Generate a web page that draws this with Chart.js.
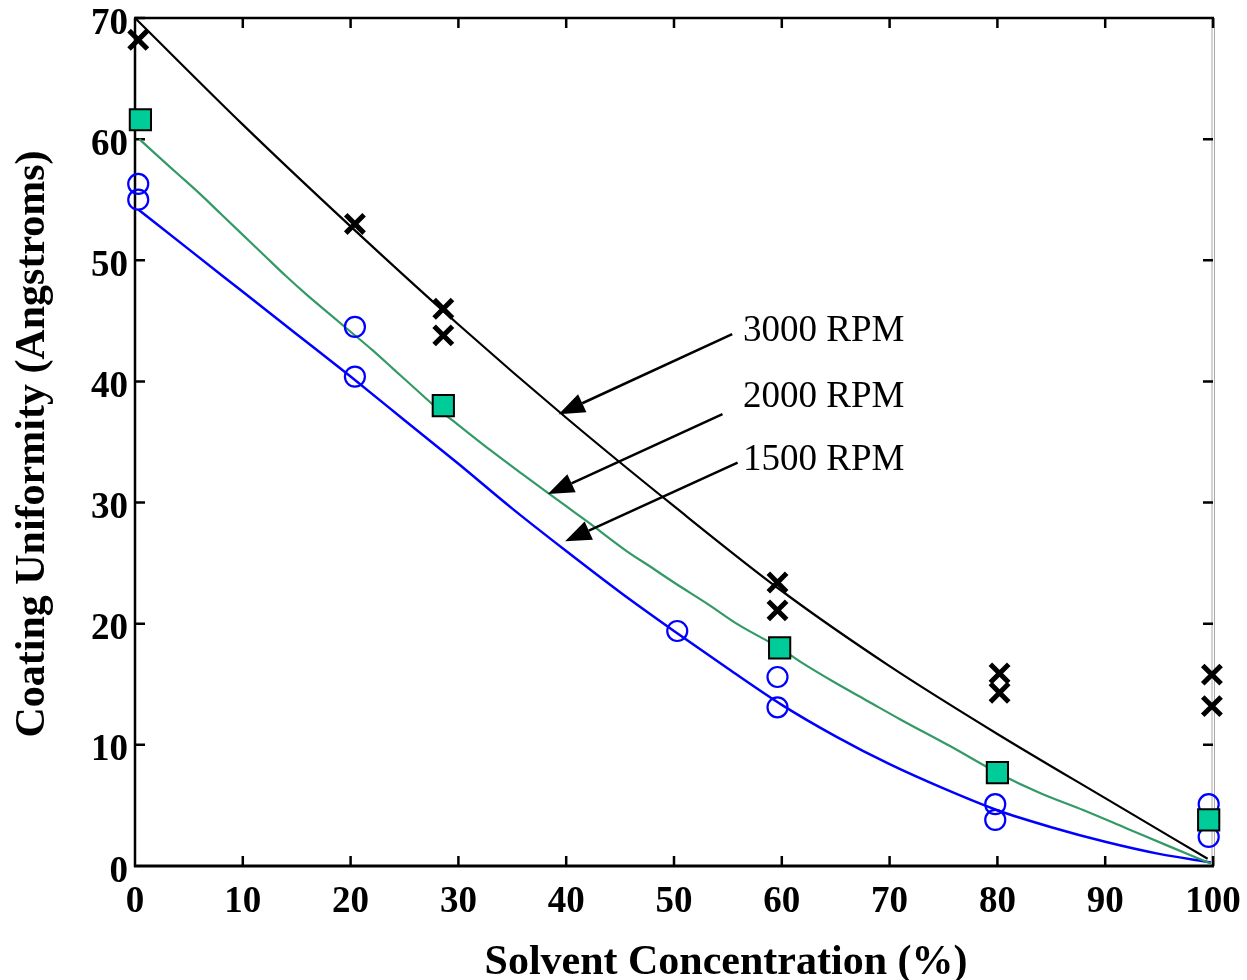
<!DOCTYPE html>
<html><head><meta charset="utf-8">
<script src="https://cdn.jsdelivr.net/npm/chart.js@4/dist/chart.umd.min.js"></script>
<style>html,body{margin:0;padding:0;background:#fff;}</style>
</head><body>
<canvas id="c" width="1247" height="980"></canvas>
<script>
// ---- data ----
const xTickValues = [0,10,20,30,40,50,60,70,80,90,100];
const yTickValues = [0,10,20,30,40,50,60,70];

// measured points
const rpm3000X = [0.3, 20.4, 28.6, 28.6, 59.6, 59.6, 80.2, 80.2, 99.9, 99.9];
const rpm3000Y = [68.2, 53.0, 46.0, 43.8, 23.4, 21.1, 15.9, 14.3, 15.8, 13.2];
const rpm2000X = [0.5, 28.6, 59.8, 80.0, 99.6];
const rpm2000Y = [61.6, 38.0, 18.0, 7.7, 3.8];
const rpm1500X = [0.3, 0.3, 20.4, 20.4, 50.3, 59.6, 59.6, 79.8, 79.8, 99.6, 99.6];
const rpm1500Y = [56.3, 55.0, 44.5, 40.4, 19.4, 15.6, 13.1, 5.1, 3.8, 5.1, 2.4];

// fitted curves
const fit3000X = [0, 10, 20, 30, 40, 50, 60, 70, 80, 90, 99.5];
const fit3000Y = [70, 61.2, 52.8, 44.7, 37.0, 29.7, 22.7, 16.5, 10.9, 5.6, 0.6];
const fit2000X = [0.4, 2, 4, 6, 8, 10, 12, 14, 16, 18, 20, 22, 24, 26, 28, 30, 33, 36, 38.3, 40, 42, 45.6, 48, 50, 53, 56, 59.8, 62, 65, 68, 71, 75.6, 80, 84, 88, 92, 96, 99.8];
const fit2000Y = [60.0, 58.7, 57.1, 55.5, 53.8, 52.1, 50.4, 48.7, 47.1, 45.6, 44.1, 42.6, 41.0, 39.4, 37.8, 36.4, 34.3, 32.3, 30.8, 29.7, 28.4, 26.0, 24.6, 23.4, 21.7, 19.9, 18.0, 16.7, 15.1, 13.6, 12.1, 9.9, 7.7, 6.0, 4.6, 3.1, 1.6, 0.2];
const fit1500X = [0.3, 5, 10, 15, 20, 25, 30, 35, 40, 45, 50, 55, 60, 65, 70, 75, 80, 85, 90, 95, 99.8];
const fit1500Y = [54.2, 50.9, 47.4, 43.9, 40.4, 36.8, 33.2, 29.5, 26.0, 22.6, 19.4, 16.3, 13.3, 10.7, 8.4, 6.4, 4.6, 3.2, 2.0, 1.0, 0.3];

// annotations (labels and arrow ends in data units)
const annoLabels = ['3000 RPM', '2000 RPM', '1500 RPM'];
const annoTextX = [56.4, 56.4, 56.4];
const annoTextY = [44.1, 38.7, 33.5];
const annoTailX = [55.4, 54.5, 55.9];
const annoTailY = [43.9, 37.3, 33.3];
const annoTipX = [39.3, 38.3, 39.9];
const annoTipY = [37.3, 30.7, 26.8];

const xTitle = 'Solvent Concentration (%)';
const yTitle = 'Coating Uniformity (Angstroms)';

const pts = (xs, ys) => xs.map((x, i) => ({x, y: ys[i]}));

const SERIF = '"Liberation Serif", "Times New Roman", serif';

const framePlugin = {
  id: 'frame',
  beforeDatasetsDraw(chart) {
    const {ctx, chartArea: a, scales: {x, y}} = chart;
    ctx.save();
    ctx.lineCap = 'butt';
    // right border (grey double line)
    ctx.lineWidth = 1;
    ctx.strokeStyle = '#a8a8a8';
    ctx.beginPath();
    ctx.moveTo(a.right - 1, a.top); ctx.lineTo(a.right - 1, a.bottom);
    ctx.moveTo(a.right + 1.5, a.top); ctx.lineTo(a.right + 1.5, a.bottom);
    ctx.stroke();
    ctx.strokeStyle = '#000';
    // left, top
    ctx.lineWidth = 2.5;
    ctx.beginPath();
    ctx.moveTo(a.left, a.top); ctx.lineTo(a.left, a.bottom + 1);
    ctx.moveTo(a.left - 1, a.top); ctx.lineTo(a.right + 1, a.top);
    ctx.stroke();
    // bottom
    ctx.lineWidth = 3;
    ctx.beginPath();
    ctx.moveTo(a.left - 1, a.bottom); ctx.lineTo(a.right + 1, a.bottom);
    ctx.stroke();
    // inward ticks
    ctx.lineWidth = 2.5;
    ctx.beginPath();
    xTickValues.forEach(v => {
      if (v === 0) return;
      const px = x.getPixelForValue(v);
      ctx.moveTo(px, a.bottom); ctx.lineTo(px, a.bottom - 10);
      ctx.moveTo(px, a.top); ctx.lineTo(px, a.top + 10);
    });
    yTickValues.forEach(v => {
      if (v === 0) return;
      const py = y.getPixelForValue(v);
      ctx.moveTo(a.left, py); ctx.lineTo(a.left + 10, py);
      if (v !== 70) { ctx.moveTo(a.right, py); ctx.lineTo(a.right - 10, py); }
    });
    ctx.stroke();
    // axis titles
    ctx.fillStyle = '#000';
    ctx.font = 'bold 42px ' + SERIF;
    ctx.textAlign = 'center';
    ctx.textBaseline = 'middle';
    ctx.fillText(xTitle, 726, 963);
    ctx.save();
    ctx.translate(33, 444);
    ctx.rotate(-Math.PI / 2);
    ctx.fillText(yTitle, 0, 0);
    ctx.restore();
    ctx.restore();
  },
  afterDatasetsDraw(chart) {
    const {ctx, scales: {x, y}} = chart;
    ctx.save();
    ctx.strokeStyle = '#000';
    ctx.fillStyle = '#000';
    ctx.lineWidth = 2.5;
    for (let i = 0; i < annoLabels.length; i++) {
      const tx = x.getPixelForValue(annoTailX[i]), ty = y.getPixelForValue(annoTailY[i]);
      const hx = x.getPixelForValue(annoTipX[i]), hy = y.getPixelForValue(annoTipY[i]);
      const ang = Math.atan2(hy - ty, hx - tx);
      const L = 26, W = 10;
      const bx = hx - L * Math.cos(ang), by = hy - L * Math.sin(ang);
      ctx.beginPath();
      ctx.moveTo(tx, ty); ctx.lineTo(bx, by);
      ctx.stroke();
      ctx.beginPath();
      ctx.moveTo(hx, hy);
      ctx.lineTo(bx + W * Math.sin(ang), by - W * Math.cos(ang));
      ctx.lineTo(bx - W * Math.sin(ang), by + W * Math.cos(ang));
      ctx.closePath();
      ctx.fill();
      ctx.font = '37px ' + SERIF;
      ctx.textAlign = 'left';
      ctx.textBaseline = 'middle';
      ctx.fillText(annoLabels[i], x.getPixelForValue(annoTextX[i]), y.getPixelForValue(annoTextY[i]));
    }
    ctx.restore();
  }
};

const markerCommon = {showLine: false, clip: false};
const lineCommon = {showLine: true, pointRadius: 0, pointHoverRadius: 0, fill: false, cubicInterpolationMode: 'monotone', clip: false};
const noPad = s => { s.paddingLeft = 0; s.paddingRight = 0; s.paddingTop = 0; s.paddingBottom = 0; };

new Chart(document.getElementById('c'), {
  type: 'scatter',
  data: {
    datasets: [
      {...markerCommon, label: '3000 RPM data', data: pts(rpm3000X, rpm3000Y), pointStyle: 'crossRot', pointRadius: 13, pointBorderWidth: 5, borderColor: '#000', backgroundColor: '#000'},
      {...markerCommon, label: '2000 RPM data', data: pts(rpm2000X, rpm2000Y), pointStyle: 'rect', pointRadius: 15, pointBorderWidth: 2, borderColor: '#000', backgroundColor: '#00CC99'},
      {...markerCommon, label: '1500 RPM data', data: pts(rpm1500X, rpm1500Y), pointStyle: 'circle', pointRadius: 10, pointBorderWidth: 2.2, borderColor: '#0000FF', backgroundColor: 'rgba(0,0,0,0)'},
      {...lineCommon, label: '3000 RPM fit', data: pts(fit3000X, fit3000Y), borderColor: '#000', borderWidth: 2.2},
      {...lineCommon, label: '2000 RPM fit', data: pts(fit2000X, fit2000Y), borderColor: '#339966', borderWidth: 2.2},
      {...lineCommon, label: '1500 RPM fit', data: pts(fit1500X, fit1500Y), borderColor: '#0000FF', borderWidth: 2.5}
    ]
  },
  options: {
    responsive: false,
    animation: false,
    devicePixelRatio: 1,
    layout: {padding: {left: 0, top: 16, right: 34, bottom: 0}},
    plugins: {legend: {display: false}, tooltip: {enabled: false}},
    scales: {
      x: {
        type: 'linear', min: 0, max: 100,
        grid: {display: false, drawTicks: false},
        border: {display: false},
        afterBuildTicks: s => { s.ticks = xTickValues.map(v => ({value: v})); },
        ticks: {color: '#000', padding: 17.5, font: {family: SERIF, size: 37, weight: 'bold', lineHeight: 1}},
        afterFit: s => { s.height = 114; noPad(s); }
      },
      y: {
        type: 'linear', min: 0, max: 70,
        grid: {display: false, drawTicks: false},
        border: {display: false},
        afterBuildTicks: s => { s.ticks = yTickValues.map(v => ({value: v})); },
        ticks: {color: '#000', padding: 7, labelOffset: 6, font: {family: SERIF, size: 37, weight: 'bold', lineHeight: 0.8}},
        afterFit: s => { s.width = 135; noPad(s); }
      }
    }
  },
  plugins: [framePlugin]
});
</script>
</body></html>
